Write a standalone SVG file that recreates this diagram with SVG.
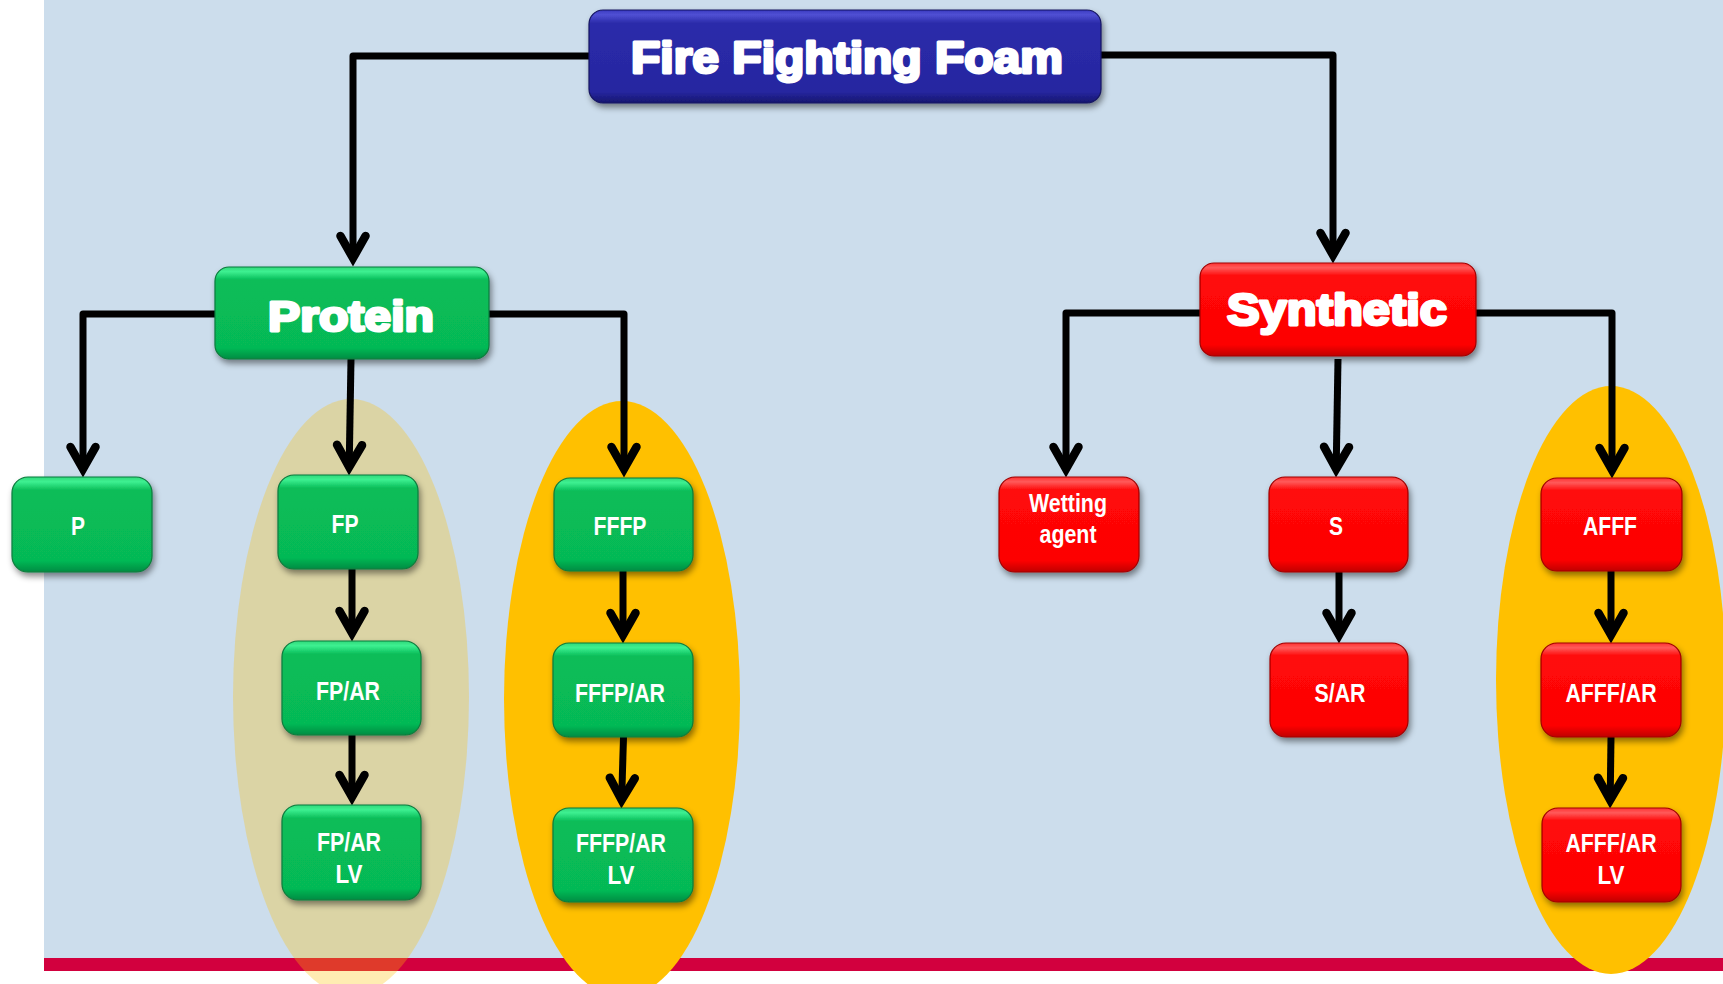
<svg xmlns="http://www.w3.org/2000/svg" width="1723" height="984" viewBox="0 0 1723 984">
<style>
.big{font-family:"Liberation Sans",Arial,sans-serif;font-weight:bold;fill:#fff;stroke:#fff;stroke-width:3;stroke-linejoin:round;text-anchor:middle}
.sm{font-family:"Liberation Sans Narrow","Arial Narrow","Liberation Sans",sans-serif;font-weight:bold;font-size:26px;fill:#fff;text-anchor:middle}
.g{fill:url(#gGreen);stroke:#0a7a3c;stroke-width:1.2;filter:url(#sh)}
.r{fill:url(#gRed);stroke:#a00000;stroke-width:1.2;filter:url(#sh)}
.b{fill:url(#gBlue);stroke:#141460;stroke-width:1.2;filter:url(#sh)}
.c{fill:none;stroke:#000;stroke-width:7;stroke-linejoin:round;marker-end:url(#arr)}
</style>
<defs>
<linearGradient id="gGreen" x1="0" y1="0" x2="0" y2="1">
<stop offset="0" stop-color="#2fd97a"/><stop offset="0.05" stop-color="#3ef091"/><stop offset="0.14" stop-color="#08bd59"/><stop offset="0.88" stop-color="#06b955"/><stop offset="1" stop-color="#058c42"/>
</linearGradient>
<linearGradient id="gRed" x1="0" y1="0" x2="0" y2="1">
<stop offset="0" stop-color="#ff3030"/><stop offset="0.05" stop-color="#ff5a5a"/><stop offset="0.14" stop-color="#ff0808"/><stop offset="0.88" stop-color="#fd0404"/><stop offset="1" stop-color="#c00000"/>
</linearGradient>
<linearGradient id="gBlue" x1="0" y1="0" x2="0" y2="1">
<stop offset="0" stop-color="#3a3ac0"/><stop offset="0.05" stop-color="#5050d4"/><stop offset="0.14" stop-color="#2b2baa"/><stop offset="0.88" stop-color="#2626a0"/><stop offset="1" stop-color="#16166e"/>
</linearGradient>
<filter id="sh" x="-10%" y="-10%" width="125%" height="135%">
<feDropShadow dx="2" dy="4" stdDeviation="3" flood-color="#000" flood-opacity="0.45"/>
</filter>
<marker id="arr" markerUnits="userSpaceOnUse" markerWidth="60" markerHeight="60" refX="-2" refY="0" orient="auto" overflow="visible">
<path d="M -22 -12.5 L 0 0 L -22 12.5" fill="none" stroke="#000" stroke-width="8.5" stroke-linecap="round" stroke-linejoin="miter" stroke-miterlimit="10"/>
</marker>
</defs>

<g id="background">
<rect x="0" y="0" width="1723" height="984" fill="#ffffff"/>
<rect x="44" y="0" width="1679" height="958" fill="#ccddec"/>
<rect x="44" y="958" width="1679" height="13" fill="#d2003e"/>
</g>

<g id="groups">
<ellipse cx="351" cy="697" rx="118" ry="298" fill="#ffc000" fill-opacity="0.3"/>
<ellipse cx="622" cy="699" rx="118" ry="298" fill="#ffc000"/>
<ellipse cx="1611" cy="680" rx="115" ry="294" fill="#ffc000"/>
</g>

<g id="connectors">
<path class="c" d="M 589 56 H 353 V 256"/>
<path class="c" d="M 1101 55 H 1333 V 253"/>
<path class="c" d="M 215 314 H 83 V 467"/>
<path class="c" d="M 351 359 L 349.2 465"/>
<path class="c" d="M 489 314 H 624 V 467"/>
<path class="c" d="M 352 569 V 631"/>
<path class="c" d="M 352 735 V 795"/>
<path class="c" d="M 623 571 V 633"/>
<path class="c" d="M 623.5 737 L 621.7 798"/>
<path class="c" d="M 1200 313 H 1066 V 467"/>
<path class="c" d="M 1338 359 L 1336.2 467"/>
<path class="c" d="M 1476 313 H 1612 V 468"/>
<path class="c" d="M 1339 572 V 633"/>
<path class="c" d="M 1611 571 V 633"/>
<path class="c" d="M 1611 737 L 1610.2 798"/>
</g>

<g id="node-fff">
<rect class="b" x="589" y="10" width="512" height="93" rx="14"/>
<text class="big" x="847" y="73" font-size="45" textLength="432" lengthAdjust="spacingAndGlyphs">Fire Fighting Foam</text>
</g>
<g id="node-protein">
<rect class="g" x="215" y="267" width="274" height="92" rx="14"/>
<text class="big" x="351" y="331" font-size="43" textLength="166" lengthAdjust="spacingAndGlyphs">Protein</text>
</g>
<g id="node-synthetic">
<rect class="r" x="1200" y="263" width="276" height="93" rx="14"/>
<text class="big" x="1337" y="325" font-size="44" textLength="220" lengthAdjust="spacingAndGlyphs">Synthetic</text>
</g>

<g id="node-p">
<rect class="g" x="12" y="477" width="140" height="95" rx="16"/>
<text class="sm" x="78" y="535" textLength="14" lengthAdjust="spacingAndGlyphs">P</text>
</g>
<g id="node-fp">
<rect class="g" x="278" y="475" width="140" height="94" rx="16"/>
<text class="sm" x="345" y="533" textLength="27" lengthAdjust="spacingAndGlyphs">FP</text>
</g>
<g id="node-fp-ar">
<rect class="g" x="282" y="641" width="139" height="94" rx="16"/>
<text class="sm" x="348" y="700" textLength="64" lengthAdjust="spacingAndGlyphs">FP/AR</text>
</g>
<g id="node-fp-ar-lv">
<rect class="g" x="282" y="805" width="139" height="95" rx="16"/>
<text class="sm" x="349" y="851" textLength="64" lengthAdjust="spacingAndGlyphs">FP/AR</text>
<text class="sm" x="349" y="883" textLength="27" lengthAdjust="spacingAndGlyphs">LV</text>
</g>
<g id="node-fffp">
<rect class="g" x="554" y="478" width="139" height="93" rx="16"/>
<text class="sm" x="620" y="535" textLength="53" lengthAdjust="spacingAndGlyphs">FFFP</text>
</g>
<g id="node-fffp-ar">
<rect class="g" x="553" y="643" width="140" height="94" rx="16"/>
<text class="sm" x="620" y="702" textLength="90" lengthAdjust="spacingAndGlyphs">FFFP/AR</text>
</g>
<g id="node-fffp-ar-lv">
<rect class="g" x="553" y="808" width="140" height="94" rx="16"/>
<text class="sm" x="621" y="852" textLength="90" lengthAdjust="spacingAndGlyphs">FFFP/AR</text>
<text class="sm" x="621" y="884" textLength="27" lengthAdjust="spacingAndGlyphs">LV</text>
</g>

<g id="node-wetting">
<rect class="r" x="999" y="477" width="140" height="95" rx="16"/>
<text class="sm" x="1068" y="512" textLength="78" lengthAdjust="spacingAndGlyphs">Wetting</text>
<text class="sm" x="1068" y="543" textLength="57" lengthAdjust="spacingAndGlyphs">agent</text>
</g>
<g id="node-s">
<rect class="r" x="1269" y="477" width="139" height="95" rx="16"/>
<text class="sm" x="1336" y="535" textLength="14" lengthAdjust="spacingAndGlyphs">S</text>
</g>
<g id="node-s-ar">
<rect class="r" x="1270" y="643" width="138" height="94" rx="16"/>
<text class="sm" x="1340" y="702" textLength="51" lengthAdjust="spacingAndGlyphs">S/AR</text>
</g>
<g id="node-afff">
<rect class="r" x="1541" y="478" width="141" height="93" rx="16"/>
<text class="sm" x="1610" y="535" textLength="54" lengthAdjust="spacingAndGlyphs">AFFF</text>
</g>
<g id="node-afff-ar">
<rect class="r" x="1541" y="643" width="140" height="94" rx="16"/>
<text class="sm" x="1611" y="702" textLength="91" lengthAdjust="spacingAndGlyphs">AFFF/AR</text>
</g>
<g id="node-afff-ar-lv">
<rect class="r" x="1542" y="808" width="139" height="94" rx="16"/>
<text class="sm" x="1611" y="852" textLength="91" lengthAdjust="spacingAndGlyphs">AFFF/AR</text>
<text class="sm" x="1611" y="884" textLength="27" lengthAdjust="spacingAndGlyphs">LV</text>
</g>
</svg>
